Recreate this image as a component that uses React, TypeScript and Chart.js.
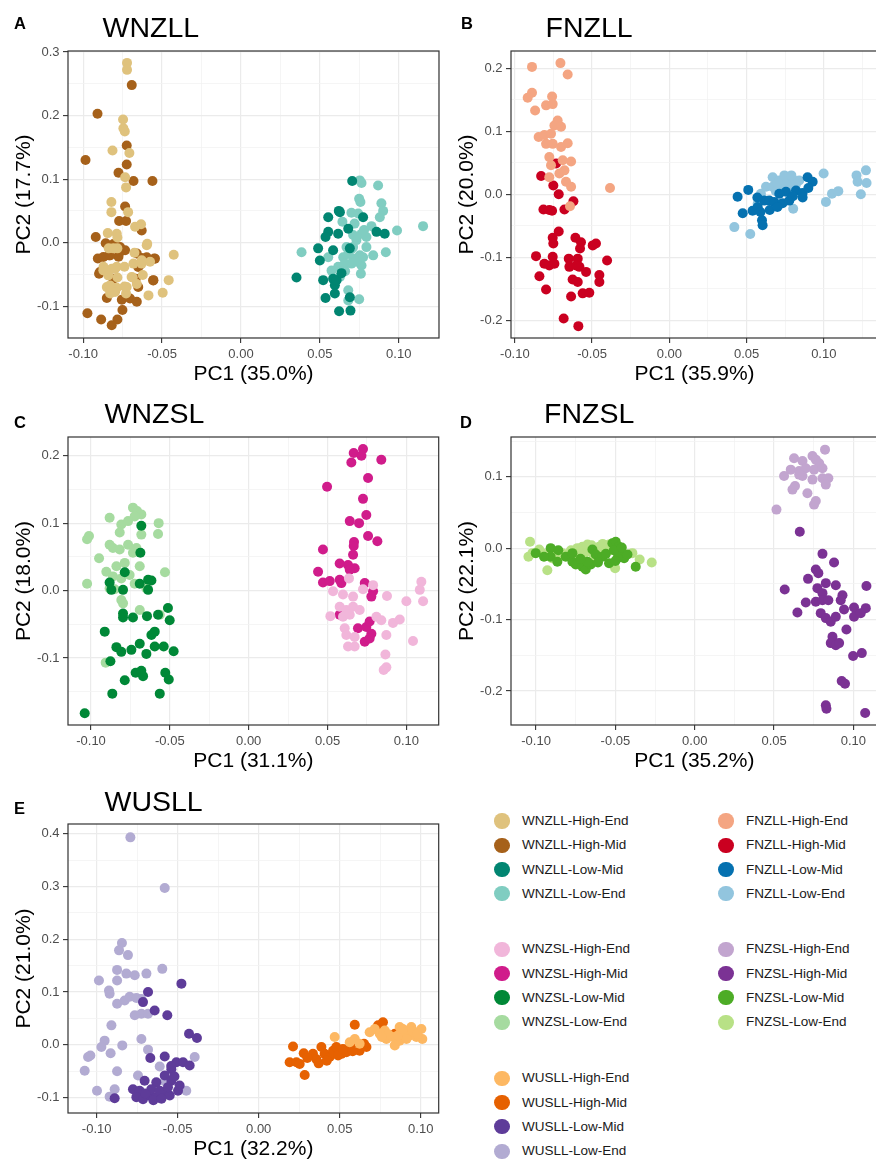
import React, { useEffect, useRef } from "react";
import { Chart, registerables } from "chart.js";

Chart.register(...registerables);

const FONT = "'Liberation Sans', Arial, Helvetica, sans-serif";

type Pt = [number, number];

// ---------------- DATA ----------------
const SUFFIXES = ["High-End", "High-Mid", "Low-Mid", "Low-End"];

const WNZLL_COLORS = ["#DFC27D", "#A6611A", "#018571", "#80CDC1"];
const FNZLL_COLORS = ["#F4A582", "#CA0020", "#0571B0", "#92C5DE"];
const WNZSL_COLORS = ["#F1B6DA", "#D01C8B", "#008837", "#A6DBA0"];
const FNZSL_COLORS = ["#C2A5CF", "#7B3294", "#4DAC26", "#B8E186"];
const WUSLL_COLORS = ["#FDB863", "#E66101", "#5E3C99", "#B2ABD2"];

const X_TICKS = [-0.1, -0.05, 0, 0.05, 0.1];
const Y_TICKS_A = [-0.1, 0, 0.1, 0.2, 0.3];
const Y_TICKS_B = [-0.2, -0.1, 0, 0.1, 0.2];
const Y_TICKS_C = [-0.2, -0.1, 0, 0.1, 0.2];
const Y_TICKS_D = [-0.2, -0.1, 0, 0.1];
const Y_TICKS_E = [-0.1, 0, 0.1, 0.2, 0.3, 0.4];

const WNZLL_HIGH_END: Pt[] = [[-0.0722,0.283],[-0.0722,0.272],[-0.0747,0.194],[-0.0745,0.180],[-0.0736,0.175],[-0.0814,0.145],[-0.0707,0.141],[-0.0734,0.103],[-0.0728,0.087],[-0.0821,0.064],[-0.0821,0.048],[-0.0715,0.048],[-0.0671,0.025],[-0.0633,0.029],[-0.0844,0.015],[-0.0787,0.014],[-0.0783,0.008],[-0.0838,-0.009],[-0.0783,-0.009],[-0.0808,-0.009],[-0.0675,-0.016],[-0.0597,-0.004],[-0.0426,-0.019],[-0.0871,-0.038],[-0.0850,-0.044],[-0.0819,-0.041],[-0.0787,-0.038],[-0.0738,-0.038],[-0.0681,-0.033],[-0.0629,-0.033],[-0.0576,-0.030],[-0.0686,-0.055],[-0.0622,-0.051],[-0.0458,-0.059],[-0.0850,-0.070],[-0.0829,-0.075],[-0.0787,-0.071],[-0.0738,-0.069],[-0.0660,-0.065],[-0.0586,-0.083],[-0.0496,-0.079],[-0.0728,-0.080],[-0.0829,-0.080],[-0.0783,-0.055],[-0.0872,-0.0436],[-0.0841,-0.0515],[-0.0798,-0.041],[-0.0693,-0.0542],[-0.0830,-0.0673],[-0.0798,-0.0778],[-0.0724,-0.0699],[-0.0594,-0.0016],[-0.0629,-0.0279]];
const WNZLL_HIGH_MID: Pt[] = [[-0.0692,0.248],[-0.0909,0.203],[-0.0985,0.130],[-0.0724,0.153],[-0.0724,0.123],[-0.0776,0.110],[-0.0681,0.097],[-0.0561,0.097],[-0.0734,0.057],[-0.0772,0.034],[-0.0728,0.034],[-0.0629,0.019],[-0.0920,0.009],[-0.0857,-0.001],[-0.0808,-0.002],[-0.0766,-0.007],[-0.0835,-0.020],[-0.0776,-0.022],[-0.0734,-0.012],[-0.0907,-0.025],[-0.0660,-0.017],[-0.0629,-0.024],[-0.0597,-0.023],[-0.0549,-0.025],[-0.0899,-0.049],[-0.0667,-0.057],[-0.0643,-0.036],[-0.0555,-0.059],[-0.0850,-0.087],[-0.0755,-0.090],[-0.0703,-0.088],[-0.0660,-0.093],[-0.0751,-0.106],[-0.0973,-0.111],[-0.0886,-0.121],[-0.0783,-0.121],[-0.0819,-0.130],[-0.0797,-0.075],[-0.0872,-0.0226],[-0.0830,-0.020],[-0.0767,-0.0147],[-0.0651,-0.0384],[-0.0545,-0.0252],[-0.0894,-0.0463],[-0.0809,-0.0567],[-0.0651,-0.0699],[-0.0556,-0.0594]];
const WNZLL_LOW_MID: Pt[] = [[0.0705,0.097],[0.0553,0.040],[0.0620,0.050],[0.0627,0.048],[0.0553,0.017],[0.0536,0.009],[0.0616,0.014],[0.0680,0.022],[0.0774,0.040],[0.0859,0.017],[0.0911,0.014],[0.0489,-0.009],[0.0584,-0.012],[0.0500,-0.028],[0.0690,-0.009],[0.0352,-0.055],[0.0521,-0.059],[0.0584,-0.057],[0.0595,-0.067],[0.0606,-0.059],[0.0536,-0.087],[0.0595,-0.080],[0.0690,-0.086],[0.0622,-0.108],[0.0694,-0.107],[0.0637,-0.048]];
const WNZLL_LOW_END: Pt[] = [[0.0753,0.098],[0.0764,0.094],[0.0869,0.090],[0.0749,0.069],[0.0757,0.064],[0.0890,0.062],[0.0901,0.050],[0.0880,0.040],[0.0700,0.047],[0.0743,0.046],[0.0643,0.033],[0.0827,0.026],[0.0989,0.019],[0.1154,0.026],[0.0711,0.012],[0.0732,0.004],[0.0764,0.014],[0.0795,0.009],[0.0669,-0.007],[0.0711,-0.007],[0.0795,-0.007],[0.0838,-0.020],[0.0918,-0.015],[0.0384,-0.015],[0.0553,-0.023],[0.0648,-0.023],[0.0680,-0.017],[0.0711,-0.025],[0.0753,-0.020],[0.0574,-0.044],[0.0616,-0.038],[0.0658,-0.033],[0.0700,-0.033],[0.0764,-0.036],[0.0627,-0.054],[0.0760,-0.049],[0.0680,-0.075],[0.0749,-0.089],[0.0680,-0.091],[0.0774,-0.023],[0.0700,-0.010],[0.0730,-0.030],[0.0660,-0.045],[0.0720,0.030],[0.0780,0.020]];

const FNZLL_HIGH_END: Pt[] = [[-0.0889,0.202],[-0.0705,0.208],[-0.0658,0.190],[-0.0889,0.161],[-0.0917,0.153],[-0.0869,0.133],[-0.0759,0.155],[-0.0798,0.141],[-0.0755,0.143],[-0.0723,0.117],[-0.0744,0.109],[-0.0701,0.107],[-0.0846,0.091],[-0.0809,0.094],[-0.0766,0.096],[-0.0798,0.080],[-0.0755,0.080],[-0.0701,0.075],[-0.0658,0.081],[-0.0777,0.059],[-0.0766,0.046],[-0.0690,0.054],[-0.0636,0.052],[-0.0777,0.027],[-0.0712,0.033],[-0.0679,0.038],[-0.0669,0.020],[-0.0636,0.012],[-0.0384,0.010],[-0.0643,-0.019]];
const FNZLL_HIGH_MID: Pt[] = [[-0.0733,0.049],[-0.0830,0.029],[-0.0751,0.014],[-0.0716,0.000],[-0.0815,-0.024],[-0.0777,-0.025],[-0.0759,-0.026],[-0.0679,-0.024],[-0.0621,-0.011],[-0.0716,-0.059],[-0.0751,-0.078],[-0.0755,-0.069],[-0.0608,-0.069],[-0.0572,-0.076],[-0.0578,-0.086],[-0.0496,-0.081],[-0.0475,-0.078],[-0.0863,-0.098],[-0.0809,-0.110],[-0.0777,-0.113],[-0.0744,-0.110],[-0.0755,-0.099],[-0.0651,-0.102],[-0.0593,-0.102],[-0.0647,-0.115],[-0.0604,-0.113],[-0.0582,-0.115],[-0.0403,-0.105],[-0.0841,-0.130],[-0.0626,-0.135],[-0.0593,-0.139],[-0.0539,-0.123],[-0.0453,-0.128],[-0.0453,-0.139],[-0.0798,-0.151],[-0.0636,-0.162],[-0.0561,-0.157],[-0.0518,-0.156],[-0.0684,-0.197],[-0.0589,-0.209]];
const FNZLL_LOW_MID: Pt[] = [[0.0442,-0.004],[0.0511,0.007],[0.0475,-0.030],[0.0539,-0.026],[0.0572,-0.020],[0.0600,-0.041],[0.0604,-0.049],[0.0615,-0.010],[0.0647,-0.010],[0.0679,-0.012],[0.0733,-0.014],[0.0777,-0.010],[0.0820,0.006],[0.0863,0.002],[0.0895,0.027],[0.0928,0.020],[0.0755,0.004],[0.0712,0.001],[0.0863,-0.005],[0.0570,-0.005],[0.0590,-0.028],[0.0650,-0.025],[0.0700,-0.020],[0.0800,-0.003],[0.0900,0.010]];
const FNZLL_LOW_END: Pt[] = [[0.0421,-0.052],[0.0524,-0.063],[0.0572,-0.015],[0.0593,0.001],[0.0626,0.012],[0.0669,0.027],[0.0712,0.022],[0.0755,0.027],[0.0777,0.020],[0.0809,0.022],[0.0841,0.022],[0.0669,0.012],[0.0733,0.009],[0.0798,0.009],[0.0802,-0.023],[0.0999,0.033],[0.1014,-0.012],[0.1053,0.001],[0.1094,0.005],[0.1212,0.030],[0.1273,0.038],[0.1277,0.018],[0.1240,0.000],[0.1219,0.020],[0.0700,0.018],[0.0760,0.015],[0.0820,0.016],[0.0690,0.005],[0.0745,0.030],[0.0790,0.030]];

const WNZSL_HIGH_END: Pt[] = [[0.0636,0.018],[0.0725,0.002],[0.0789,0.008],[0.0535,-0.001],[0.0598,-0.006],[0.0662,-0.009],[0.1095,0.013],[0.1085,0.001],[0.1106,-0.016],[0.1000,-0.016],[0.0877,-0.008],[0.0577,-0.024],[0.0619,-0.029],[0.0662,-0.024],[0.0704,-0.029],[0.0518,-0.038],[0.0598,-0.039],[0.0641,-0.036],[0.0810,-0.039],[0.0841,-0.044],[0.0915,-0.048],[0.0958,-0.043],[0.0609,-0.056],[0.0619,-0.066],[0.0672,-0.069],[0.0873,-0.066],[0.1042,-0.075],[0.0630,-0.083],[0.0672,-0.083],[0.0867,-0.095],[0.0873,-0.114],[0.0856,-0.118]];
const WNZSL_HIGH_MID: Pt[] = [[0.0666,0.204],[0.0725,0.210],[0.0715,0.200],[0.0651,0.190],[0.0841,0.194],[0.0757,0.167],[0.0497,0.154],[0.0725,0.136],[0.0746,0.112],[0.0641,0.103],[0.0700,0.100],[0.0757,0.081],[0.0816,0.073],[0.0668,0.072],[0.0666,0.066],[0.0662,0.053],[0.0471,0.061],[0.0577,0.040],[0.0630,0.038],[0.0672,0.033],[0.0641,0.031],[0.0440,0.028],[0.0471,0.012],[0.0514,0.014],[0.0577,0.016],[0.0588,0.011],[0.0736,0.011],[0.0789,-0.001],[0.0778,-0.009],[0.0577,-0.036],[0.0693,-0.056],[0.0746,-0.054],[0.0767,-0.046],[0.0778,-0.064],[0.0736,-0.076],[0.0767,-0.071]];
const WNZSL_LOW_MID: Pt[] = [[-0.0681,0.096],[-0.0687,0.056],[-0.0786,0.027],[-0.0882,0.012],[-0.0871,0.001],[-0.0797,0.001],[-0.0691,0.010],[-0.0638,0.016],[-0.0617,0.015],[-0.0638,0.001],[-0.0797,-0.034],[-0.0797,-0.040],[-0.0734,-0.040],[-0.0645,-0.038],[-0.0512,-0.026],[-0.0501,-0.044],[-0.0575,-0.036],[-0.0913,-0.061],[-0.0617,-0.066],[-0.0596,-0.061],[-0.0839,-0.084],[-0.0808,-0.091],[-0.0744,-0.088],[-0.0691,-0.079],[-0.0649,-0.094],[-0.0596,-0.083],[-0.0539,-0.083],[-0.0476,-0.090],[-0.0877,-0.105],[-0.0717,-0.122],[-0.0681,-0.119],[-0.0670,-0.127],[-0.0786,-0.133],[-0.0529,-0.122],[-0.0507,-0.132],[-0.0865,-0.153],[-0.0564,-0.153],[-0.1040,-0.182]];
const WNZSL_LOW_END: Pt[] = [[-0.0734,0.123],[-0.0708,0.118],[-0.0681,0.113],[-0.0723,0.110],[-0.0882,0.108],[-0.0571,0.100],[-0.0575,0.084],[-0.0808,0.098],[-0.0765,0.103],[-0.1013,0.081],[-0.1025,0.076],[-0.0818,0.086],[-0.0681,0.083],[-0.0882,0.068],[-0.0861,0.063],[-0.0818,0.061],[-0.0765,0.068],[-0.0734,0.056],[-0.0712,0.063],[-0.0949,0.048],[-0.0839,0.036],[-0.0786,0.041],[-0.0691,0.036],[-0.0903,0.028],[-0.0861,0.021],[-0.0808,0.018],[-0.0755,0.023],[-0.0531,0.027],[-0.1025,0.010],[-0.0723,0.010],[-0.0649,0.003],[-0.0882,0.003],[-0.0850,0.002],[-0.0808,-0.014],[-0.0797,-0.019],[-0.0691,-0.029],[-0.0564,-0.036],[-0.0907,-0.107]];

const FNZSL_HIGH_END: Pt[] = [[0.0821,0.138],[0.0626,0.126],[0.0679,0.122],[0.0742,0.129],[0.0763,0.124],[0.0784,0.119],[0.0563,0.101],[0.0605,0.110],[0.0658,0.108],[0.0700,0.112],[0.0752,0.110],[0.0805,0.112],[0.0679,0.101],[0.0742,0.096],[0.0805,0.098],[0.0842,0.098],[0.0826,0.089],[0.0616,0.082],[0.0632,0.087],[0.0710,0.077],[0.0752,0.061],[0.0763,0.066],[0.0515,0.054],[0.0658,0.103]];
const FNZSL_HIGH_MID: Pt[] = [[0.0662,0.023],[0.0805,-0.008],[0.0878,-0.020],[0.0763,-0.030],[0.0779,-0.035],[0.0714,-0.043],[0.0567,-0.058],[0.0826,-0.049],[0.0889,-0.052],[0.0773,-0.056],[0.0805,-0.063],[0.1082,-0.053],[0.0931,-0.066],[0.0920,-0.073],[0.0700,-0.076],[0.0763,-0.075],[0.0805,-0.073],[0.0842,-0.073],[0.0647,-0.090],[0.0794,-0.091],[0.0826,-0.098],[0.0857,-0.103],[0.0889,-0.096],[0.0941,-0.086],[0.1004,-0.083],[0.1078,-0.084],[0.1004,-0.096],[0.1046,-0.091],[0.0956,-0.114],[0.0868,-0.124],[0.0857,-0.133],[0.0889,-0.136],[0.0910,-0.133],[0.0998,-0.151],[0.1053,-0.147],[0.0926,-0.186],[0.0947,-0.190],[0.0826,-0.220],[0.0830,-0.225],[0.1074,-0.231]];
const FNZSL_LOW_MID: Pt[] = [[-0.1002,-0.007],[-0.0908,0.000],[-0.0908,-0.012],[-0.0813,-0.012],[-0.0771,-0.019],[-0.0750,-0.023],[-0.0771,-0.007],[-0.0708,-0.026],[-0.0687,-0.030],[-0.0655,-0.023],[-0.0676,-0.019],[-0.0645,-0.002],[-0.0624,-0.009],[-0.0582,-0.012],[-0.0540,-0.021],[-0.0519,0.007],[-0.0498,0.009],[-0.0477,0.002],[-0.0466,-0.007],[-0.0445,-0.014],[-0.0487,-0.014],[-0.0424,-0.009],[-0.0372,-0.026],[-0.0866,-0.019],[-0.0950,-0.012],[-0.0860,-0.003],[-0.0720,-0.015],[-0.0610,-0.020],[-0.0560,-0.008],[-0.0510,-0.003],[-0.0500,-0.018],[-0.0460,0.001]];
const FNZSL_LOW_END: Pt[] = [[-0.1038,0.009],[-0.1048,-0.012],[-0.1023,-0.007],[-0.0929,-0.031],[-0.0960,-0.007],[-0.0918,-0.009],[-0.0876,-0.005],[-0.0834,-0.007],[-0.0792,-0.009],[-0.0750,-0.012],[-0.0708,0.002],[-0.0666,0.000],[-0.0697,-0.007],[-0.0645,-0.007],[-0.0624,-0.012],[-0.0592,-0.005],[-0.0561,0.000],[-0.0540,0.005],[-0.0603,0.002],[-0.0502,-0.028],[-0.0393,-0.007],[-0.0347,-0.016],[-0.0271,-0.020],[-0.0729,-0.005],[-0.0676,0.005],[-0.0980,-0.002],[-0.0900,-0.014],[-0.0850,-0.010],[-0.0780,-0.003],[-0.0740,0.000],[-0.0650,0.004],[-0.0580,0.006],[-0.0530,-0.003],[-0.0470,-0.010]];

const WUSLL_HIGH_END: Pt[] = [[0.0469,0.015],[0.0562,0.005],[0.0593,0.011],[0.0623,0.002],[0.0685,0.024],[0.0716,0.030],[0.0747,0.021],[0.0778,0.027],[0.0788,0.011],[0.0829,0.015],[0.0870,0.034],[0.0901,0.024],[0.0932,0.018],[0.0963,0.024],[0.1004,0.030],[0.1010,0.011],[0.0840,-0.001],[0.0870,0.008],[0.0912,0.011],[0.0973,0.015],[0.0942,0.034],[0.0800,0.020],[0.0860,0.018],[0.0890,0.030],[0.0950,0.026],[0.0980,0.020],[0.0760,0.015]];
const WUSLL_HIGH_MID: Pt[] = [[0.0212,-0.003],[0.0278,-0.016],[0.0191,-0.033],[0.0233,-0.033],[0.0253,-0.036],[0.0284,-0.057],[0.0335,-0.017],[0.0356,-0.027],[0.0387,-0.004],[0.0407,-0.017],[0.0438,-0.023],[0.0459,-0.011],[0.0479,-0.004],[0.0510,-0.017],[0.0541,-0.014],[0.0562,-0.004],[0.0593,0.038],[0.0593,0.005],[0.0623,-0.011],[0.0665,-0.004],[0.0737,0.037],[0.0767,0.043],[0.0747,0.027],[0.0840,0.021],[0.0870,0.018],[0.0300,-0.025],[0.0370,-0.035],[0.0420,-0.030],[0.0490,-0.020],[0.0520,-0.008],[0.0580,-0.012],[0.0650,0.002]];
const WUSLL_LOW_MID: Pt[] = [[-0.0477,0.116],[-0.0683,0.100],[-0.0714,0.081],[-0.0642,0.065],[-0.0564,0.056],[-0.0430,0.021],[-0.0381,0.013],[-0.0669,-0.025],[-0.0580,-0.022],[-0.0508,-0.033],[-0.0467,-0.033],[-0.0426,-0.039],[-0.0539,-0.046],[-0.0580,-0.058],[-0.0539,-0.068],[-0.0632,-0.071],[-0.0704,-0.068],[-0.0776,-0.084],[-0.0735,-0.087],[-0.0755,-0.099],[-0.0714,-0.103],[-0.0673,-0.096],[-0.0632,-0.099],[-0.0591,-0.093],[-0.0549,-0.096],[-0.0498,-0.087],[-0.0488,-0.077],[-0.0889,-0.101],[-0.0663,-0.084],[-0.0611,-0.087],[-0.0700,-0.092],[-0.0650,-0.105],[-0.0600,-0.102],[-0.0560,-0.080],[-0.0520,-0.060],[-0.0540,-0.040]];
const WUSLL_LOW_END: Pt[] = [[-0.0792,0.393],[-0.0580,0.297],[-0.0844,0.193],[-0.0862,0.179],[-0.0807,0.170],[-0.0595,0.144],[-0.0874,0.142],[-0.0817,0.135],[-0.0765,0.132],[-0.0693,0.135],[-0.0986,0.122],[-0.0874,0.122],[-0.0924,0.103],[-0.0920,0.097],[-0.0874,0.078],[-0.0827,0.084],[-0.0796,0.091],[-0.0755,0.089],[-0.0724,0.087],[-0.0765,0.056],[-0.0724,0.059],[-0.0683,0.059],[-0.0909,0.037],[-0.0951,0.008],[-0.0971,-0.004],[-0.0842,-0.001],[-0.0724,0.011],[-0.0683,-0.009],[-0.0914,-0.016],[-0.1053,-0.023],[-0.1039,-0.020],[-0.1074,-0.049],[-0.0874,-0.050],[-0.0611,-0.041],[-0.0395,-0.023],[-0.0745,-0.058],[-0.0580,-0.069],[-0.0998,-0.087],[-0.0889,-0.084],[-0.0920,-0.098],[-0.0447,-0.087]];

// ---------------- PANELS ----------------
interface PanelDef {
  group: string;
  letter: string;
  xLabel: string;
  yLabel: string;
  xRange: [number, number];
  yRange: [number, number];
  yTicks: number[];
  series: Pt[][];
  colors: string[];
  plot: { l: number; t: number; r: number; b: number };
  titlePos: { x: number; base: number };
  letterPos: { x: number; base: number };
}

const PANELS: PanelDef[] = [
  {
    group: "WNZLL", letter: "A", xLabel: "PC1 (35.0%)", yLabel: "PC2 (17.7%)",
    xRange: [-0.1096, 0.1255], yRange: [-0.1501, 0.3017], yTicks: Y_TICKS_A,
    series: [WNZLL_HIGH_END, WNZLL_HIGH_MID, WNZLL_LOW_MID, WNZLL_LOW_END], colors: WNZLL_COLORS,
    plot: { l: 68, t: 51, r: 439, b: 337.5 }, titlePos: { x: 102.5, base: 37 }, letterPos: { x: 14, base: 29.3 },
  },
  {
    group: "FNZLL", letter: "B", xLabel: "PC1 (35.9%)", yLabel: "PC2 (20.0%)",
    xRange: [-0.1025, 0.1351], yRange: [-0.2278, 0.2272], yTicks: Y_TICKS_B,
    series: [FNZLL_HIGH_END, FNZLL_HIGH_MID, FNZLL_LOW_MID, FNZLL_LOW_END], colors: FNZLL_COLORS,
    plot: { l: 511, t: 50.7, r: 878, b: 337.7 }, titlePos: { x: 545.5, base: 36.7 }, letterPos: { x: 461, base: 29.3 },
  },
  {
    group: "WNZSL", letter: "C", xLabel: "PC1 (31.1%)", yLabel: "PC2 (18.0%)",
    xRange: [-0.1146, 0.1205], yRange: [-0.1995, 0.2278], yTicks: Y_TICKS_C,
    series: [WNZSL_HIGH_END, WNZSL_HIGH_MID, WNZSL_LOW_MID, WNZSL_LOW_END], colors: WNZSL_COLORS,
    plot: { l: 68.3, t: 437.3, r: 439, b: 725 }, titlePos: { x: 104.5, base: 423.3 }, letterPos: { x: 14, base: 428.3 },
  },
  {
    group: "FNZSL", letter: "D", xLabel: "PC1 (35.2%)", yLabel: "PC2 (22.1%)",
    xRange: [-0.1158, 0.1153], yRange: [-0.2477, 0.1557], yTicks: Y_TICKS_D,
    series: [FNZSL_HIGH_END, FNZSL_HIGH_MID, FNZSL_LOW_MID, FNZSL_LOW_END], colors: FNZSL_COLORS,
    plot: { l: 511.3, t: 437.3, r: 878, b: 725 }, titlePos: { x: 544, base: 423 }, letterPos: { x: 460, base: 428 },
  },
  {
    group: "WUSLL", letter: "E", xLabel: "PC1 (32.2%)", yLabel: "PC2 (21.0%)",
    xRange: [-0.1177, 0.1111], yRange: [-0.129, 0.4183], yTicks: Y_TICKS_E,
    series: [WUSLL_HIGH_END, WUSLL_HIGH_MID, WUSLL_LOW_MID, WUSLL_LOW_END], colors: WUSLL_COLORS,
    plot: { l: 68.3, t: 824, r: 439, b: 1112.5 }, titlePos: { x: 104.5, base: 810.7 }, letterPos: { x: 14, base: 814 },
  },
];

// legend layout: [group, colors, column, block]
const LEGEND_ITEMS: [string, string[], number, number][] = [
  ["WNZLL", WNZLL_COLORS, 0, 0],
  ["FNZLL", FNZLL_COLORS, 1, 0],
  ["WNZSL", WNZSL_COLORS, 0, 1],
  ["FNZSL", FNZSL_COLORS, 1, 1],
  ["WUSLL", WUSLL_COLORS, 0, 2],
];

// ---------------- HELPERS ----------------
const near = (a: number, b: number) => Math.abs(a - b) < 1e-9;

function withMinor(majors: number[], min: number, max: number): number[] {
  const step = majors[1] - majors[0];
  const out: number[] = [];
  for (let j = -4; j <= majors.length * 2 + 4; j++) {
    const v = Math.round((majors[0] + (j * step) / 2) * 1e6) / 1e6;
    if (v > min && v < max) out.push(v);
  }
  return out;
}

const framePlugin = {
  id: "frame",
  afterDraw(chart: any) {
    const { ctx, chartArea } = chart;
    const { left, top, right, bottom } = chartArea;
    ctx.save();
    ctx.strokeStyle = "#333333";
    ctx.lineWidth = 1.2;
    ctx.strokeRect(left, top, right - left, bottom - top);
    ctx.restore();
  },
};

const YW = 68;
const XH = 50;
const PAD_T = 12;
const PAD_R = 6;

function axisOptions(kind: "x" | "y", def: PanelDef) {
  const majors = kind === "x" ? X_TICKS : def.yTicks;
  const [min, max] = kind === "x" ? def.xRange : def.yRange;
  const isMajor = (v: number) => majors.some((m) => near(m, v));
  const digits = kind === "x" ? 2 : 1;
  return {
    type: "linear",
    position: kind === "x" ? "bottom" : "left",
    min,
    max,
    afterBuildTicks: (scale: any) => {
      scale.ticks = withMinor(majors, min, max).map((v) => ({ value: v }));
    },
    afterFit: (scale: any) => {
      if (kind === "x") scale.height = XH;
      else scale.width = YW;
    },
    ticks: {
      autoSkip: false,
      maxRotation: 0,
      minRotation: 0,
      padding: kind === "x" ? 4 : 3.5,
      color: "#4D4D4D",
      font: { family: FONT, size: 13 },
      callback: (v: number) => (isMajor(v) ? Number(v).toFixed(digits) : ""),
    },
    grid: {
      drawOnChartArea: true,
      drawTicks: true,
      tickLength: 5,
      tickWidth: 1.1,
      color: (c: any) => (c.tick && isMajor(c.tick.value) ? "#EBEBEB" : "#F3F3F3"),
      lineWidth: (c: any) => (c.tick && isMajor(c.tick.value) ? 1.2 : 0.8),
      tickColor: (c: any) => (c.tick && isMajor(c.tick.value) ? "#333333" : "rgba(0,0,0,0)"),
    },
    border: { display: false },
    title: {
      display: true,
      text: kind === "x" ? def.xLabel : def.yLabel,
      color: "#000000",
      font: { family: FONT, size: 21, lineHeight: 1.2 },
      padding: kind === "x" ? { top: 0, bottom: 1.6 } : { top: 11.4, bottom: 0 },
    },
  };
}

function Panel({ def }: { def: PanelDef }) {
  const ref = useRef<HTMLCanvasElement | null>(null);
  const left = def.plot.l - YW;
  const top = def.plot.t - PAD_T;
  const width = Math.round(def.plot.r + PAD_R - left);
  const height = Math.round(def.plot.b + XH - top);
  const padR = width - (def.plot.r - left);
  const padT = PAD_T;

  useEffect(() => {
    if (!ref.current) return;
    const chart = new Chart(ref.current, {
      type: "scatter",
      data: {
        datasets: def.series.map((pts, i) => ({
          label: def.group + "-" + SUFFIXES[i],
          data: pts.map(([x, y]) => ({ x, y })),
          backgroundColor: def.colors[i],
          borderColor: def.colors[i],
          borderWidth: 0,
          pointRadius: 5,
          pointHoverRadius: 5,
        })),
      },
      options: {
        responsive: false,
        maintainAspectRatio: false,
        animation: false,
        devicePixelRatio: 1,
        events: [],
        layout: { padding: { left: 0, top: padT, right: padR, bottom: 0 } },
        plugins: {
          legend: { display: false },
          tooltip: { enabled: false },
          title: { display: false },
        },
        scales: {
          x: axisOptions("x", def) as any,
          y: axisOptions("y", def) as any,
        },
      },
      plugins: [framePlugin],
    });
    return () => chart.destroy();
  }, [def]);

  return (
    <canvas
      ref={ref}
      width={width}
      height={height}
      style={{ position: "absolute", left, top, width, height, display: "block" }}
    />
  );
}

function TextAt({ x, base, size, bold, children }: { x: number; base: number; size: number; bold?: boolean; children: React.ReactNode }) {
  return (
    <div
      style={{
        position: "absolute",
        left: x,
        top: base - 0.8465 * size,
        fontFamily: FONT,
        fontSize: size,
        fontWeight: bold ? 700 : 400,
        lineHeight: 1,
        color: "#000",
        whiteSpace: "nowrap",
      }}
    >
      {children}
    </div>
  );
}

function Legend() {
  const colX = [502, 726];
  const textX = [522, 746];
  const blockY = [821, 949.3, 1078.3];
  const rowH = 24.3;
  const r = 7.6;
  return (
    <>
      {LEGEND_ITEMS.map(([group, colors, col, block]) =>
        SUFFIXES.map((s, i) => {
          const cy = blockY[block] + i * rowH;
          return (
            <React.Fragment key={group + s}>
              <div
                style={{
                  position: "absolute",
                  left: colX[col] - r,
                  top: cy - r,
                  width: 2 * r,
                  height: 2 * r,
                  borderRadius: "50%",
                  background: colors[i],
                }}
              />
              <div
                style={{
                  position: "absolute",
                  left: textX[col],
                  top: cy - 10,
                  height: 20,
                  lineHeight: "20px",
                  fontFamily: FONT,
                  fontSize: 13.5,
                  color: "#1a1a1a",
                  whiteSpace: "nowrap",
                }}
              >
                {group + "-" + s}
              </div>
            </React.Fragment>
          );
        })
      )}
    </>
  );
}

export default function App() {
  return (
    <div
      style={{
        position: "absolute",
        left: 0,
        top: 0,
        width: 876,
        height: 1160,
        overflow: "hidden",
        background: "#ffffff",
      }}
    >
      {PANELS.map((p) => (
        <Panel key={p.group} def={p} />
      ))}
      {PANELS.map((p) => (
        <React.Fragment key={"t" + p.group}>
          <TextAt x={p.titlePos.x} base={p.titlePos.base} size={28.5}>
            {p.group}
          </TextAt>
          <TextAt x={p.letterPos.x} base={p.letterPos.base} size={16.5} bold>
            {p.letter}
          </TextAt>
        </React.Fragment>
      ))}
      <Legend />
    </div>
  );
}
